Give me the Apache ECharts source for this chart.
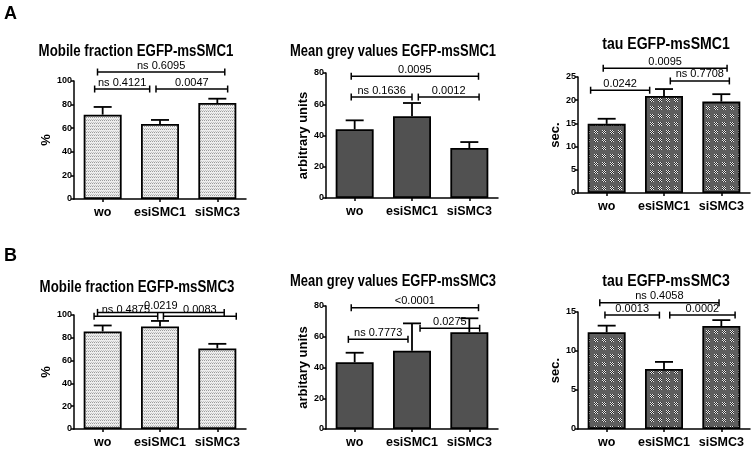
<!DOCTYPE html>
<html><head><meta charset="utf-8">
<script src="https://cdn.jsdelivr.net/npm/echarts@6/dist/echarts.min.js"></script>
<style>html,body{margin:0;padding:0;background:#fff}#c{width:755px;height:449px}</style>
</head><body><div id="c"></div>
<script>
var categories = ['wo', 'esiSMC1', 'siSMC3'];

var a1Mean = [71.5, 63.5, 81.3];
var a1Err  = [78, 67, 85];
var a2Mean = [44, 52.3, 32];
var a2Err  = [49.7, 60.8, 35.8];
var a3Mean = [14.9, 20.9, 19.7];
var a3Err  = [16.0, 22.4, 21.3];
var b1Mean = [85.6, 89.9, 70.7];
var b1Err  = [90.8, 94.8, 74.7];
var b2Mean = [43.4, 50.9, 62.9];
var b2Err  = [49.6, 68.7, 72.0];
var b3Mean = [12.4, 7.7, 13.2];
var b3Err  = [13.25, 8.6, 13.96];

// significance brackets: [from (category units), to, y value, label]
var a1Brackets = [[-0.09, 2.13, 107.6, 'ns 0.6095'], [-0.14, 0.82, 93.2, 'ns 0.4121'], [0.93, 2.18, 93.2, '0.0047']];
var a2Brackets = [[-0.06, 2.16, 77.9, '0.0095'], [-0.06, 1.0, 64.6, 'ns 0.1636'], [1.11, 2.17, 64.6, '0.0012']];
var a3Brackets = [[-0.06, 2.1, 26.9, '0.0095'], [-0.28, 0.75, 22.15, '0.0242'], [1.11, 2.14, 24.15, 'ns 0.7708']];
var b1Brackets = [[-0.09, 2.12, 102.3, '0.0219'], [-0.15, 0.96, 98.9, 'ns 0.4875'], [1.06, 2.33, 98.9, '0.0083']];
var b2Brackets = [[-0.06, 2.16, 78.9, '<0.0001'], [-0.11, 0.93, 58.3, 'ns 0.7773'], [1.14, 2.18, 65.5, '0.0275']];
var b3Brackets = [[-0.12, 1.96, 16.2, 'ns 0.4058'], [-0.03, 0.92, 14.6, '0.0013'], [1.1, 2.24, 14.6, '0.0002']];

var titles = ['Mobile fraction EGFP-msSMC1', 'Mean grey values EGFP-msSMC1', 'tau EGFP-msSMC1',
              'Mobile fraction EGFP-msSMC3', 'Mean grey values EGFP-msSMC3', 'tau EGFP-msSMC3'];
var yNames = ['%', 'arbitrary units', 'sec.', '%', 'arbitary units', 'sec.'];
var yMax = [100, 80, 25, 100, 80, 15];
var yInterval = [20, 20, 5, 20, 20, 5];

var FONT = '"Liberation Sans", Arial, Helvetica, sans-serif';

function makePattern(kind) {
  var c = document.createElement('canvas');
  var ctx;
  if (kind === 'dots') {
    c.width = 4; c.height = 3;
    ctx = c.getContext('2d');
    ctx.fillStyle = '#ededed'; ctx.fillRect(0, 0, 4, 3);
    ctx.fillStyle = '#9c9c9c'; ctx.fillRect(0, 0, 1, 1); ctx.fillRect(2, 0, 1, 1);
    ctx.fillStyle = '#c4c4c4'; ctx.fillRect(1, 2, 1, 1); ctx.fillRect(3, 2, 1, 1);
  } else {
    c.width = 8; c.height = 8;
    ctx = c.getContext('2d');
    ctx.fillStyle = '#5e5e5e'; ctx.fillRect(0, 0, 8, 8);
    for (var i = 0; i < 4; i++) for (var j = 0; j < 4; j++) {
      ctx.fillStyle = ((i + j) % 2 === 0) ? '#e8e8e8' : '#2a2a2a';
      ctx.fillRect(2 + i, 2 + j, 1, 1);
    }
  }
  return { image: c, repeat: 'repeat' };
}
var fills = [makePattern('dots'), '#515151', makePattern('check'), makePattern('dots'), '#515151', makePattern('check')];

var means = [a1Mean, a2Mean, a3Mean, b1Mean, b2Mean, b3Mean];
var errs = [a1Err, a2Err, a3Err, b1Err, b2Err, b3Err];
var brackets = [a1Brackets, a2Brackets, a3Brackets, b1Brackets, b2Brackets, b3Brackets];

var gridPos = [
  { left: 74, top: 81, height: 118 },
  { left: 326, top: 73, height: 125 },
  { left: 578, top: 77, height: 116 },
  { left: 74, top: 315, height: 116 },
  { left: 326, top: 306, height: 123 },
  { left: 578, top: 312, height: 118 }
];
var titlePos = [[136, 52], [393, 52], [666, 45], [137, 288], [393, 282], [666, 282]];
var titleScale = [0.83, 0.81, 0.88, 0.83, 0.81, 0.88];
var nameGaps = [17, 16, 12, 17, 16, 12];

var option = { animation: false, grid: [], xAxis: [], yAxis: [], series: [],
  graphic: [
    { type: 'text', left: 4, top: 5, style: { text: 'A', font: 'bold 18px ' + FONT, fill: '#000' } },
    { type: 'text', left: 4, top: 247, style: { text: 'B', font: 'bold 18px ' + FONT, fill: '#000' } }
  ] };

for (var k = 0; k < 6; k++) {
  var gp = gridPos[k];
  option.graphic.push({ type: 'text', x: titlePos[k][0], y: titlePos[k][1], scaleX: titleScale[k],
    style: { text: titles[k], x: 0, y: 0, textAlign: 'center', textVerticalAlign: 'middle',
      font: 'bold 16px ' + FONT, fill: '#000' } });
  option.grid.push({ left: gp.left, top: gp.top, width: 172, height: gp.height });
  option.xAxis.push({ type: 'category', gridIndex: k, data: categories,
    axisLine: { lineStyle: { color: '#000', width: 1.5 } },
    axisTick: { show: true, alignWithLabel: true, length: 3, lineStyle: { color: '#000', width: 1.5 } },
    axisLabel: { interval: 0, fontFamily: FONT, fontWeight: 'bold', fontSize: 12.5, color: '#000', margin: 7 } });
  option.yAxis.push({ type: 'value', gridIndex: k, min: 0, max: yMax[k], interval: yInterval[k],
    name: yNames[k], nameLocation: 'middle', nameGap: nameGaps[k],
    nameTextStyle: { fontFamily: FONT, fontWeight: 'bold', fontSize: 13, color: '#000' },
    axisLine: { show: true, lineStyle: { color: '#000', width: 1.5 } },
    axisTick: { show: true, length: 3, lineStyle: { color: '#000', width: 1.5 } },
    splitLine: { show: false },
    axisLabel: { fontFamily: FONT, fontWeight: 'bold', fontSize: 9, color: '#000', margin: 2 } });
  option.series.push({ type: 'bar', xAxisIndex: k, yAxisIndex: k, data: means[k], barWidth: 38,
    itemStyle: { color: fills[k], borderColor: '#000', borderWidth: 1.8 } });
  option.series.push({ type: 'custom', xAxisIndex: k, yAxisIndex: k, clip: false, z: 1,
    data: means[k].map(function (m, i) { return [i, m, errs[k][i]]; }),
    renderItem: function (params, api) {
      var p0 = api.coord([api.value(0), api.value(1)]);
      var p1 = api.coord([api.value(0), api.value(2)]);
      var lw = { stroke: '#000', lineWidth: 1.8 };
      return { type: 'group', children: [
        { type: 'line', shape: { x1: p0[0], y1: p0[1], x2: p1[0], y2: p1[1] }, style: lw },
        { type: 'line', shape: { x1: p1[0] - 9, y1: p1[1], x2: p1[0] + 9, y2: p1[1] }, style: lw }
      ] };
    } });
  option.series.push({ type: 'custom', xAxisIndex: k, yAxisIndex: k, clip: false, z: 5,
    data: brackets[k].map(function (b, i) { return [b[0], b[1], b[2], i]; }),
    renderItem: (function (bl) { return function (params, api) {
      var y = api.value(2);
      var c0 = api.coord([0, y]), c1 = api.coord([1, y]);
      var step = c1[0] - c0[0];
      var xa = c0[0] + api.value(0) * step, xb = c0[0] + api.value(1) * step, yy = c0[1];
      var lw = { stroke: '#000', lineWidth: 1.5 };
      return { type: 'group', children: [
        { type: 'line', shape: { x1: xa, y1: yy, x2: xb, y2: yy }, style: lw },
        { type: 'line', shape: { x1: xa, y1: yy - 3.5, x2: xa, y2: yy + 3.5 }, style: lw },
        { type: 'line', shape: { x1: xb, y1: yy - 3.5, x2: xb, y2: yy + 3.5 }, style: lw },
        { type: 'text', style: { text: bl[api.value(3)][3], x: (xa + xb) / 2, y: yy - 1,
          textAlign: 'center', textVerticalAlign: 'bottom', font: '11px ' + FONT, fill: '#000' } }
      ] };
    }; })(brackets[k]) });
}

var chart = echarts.init(document.getElementById('c'), null, { renderer: 'canvas' });
chart.setOption(option);
</script></body></html>
